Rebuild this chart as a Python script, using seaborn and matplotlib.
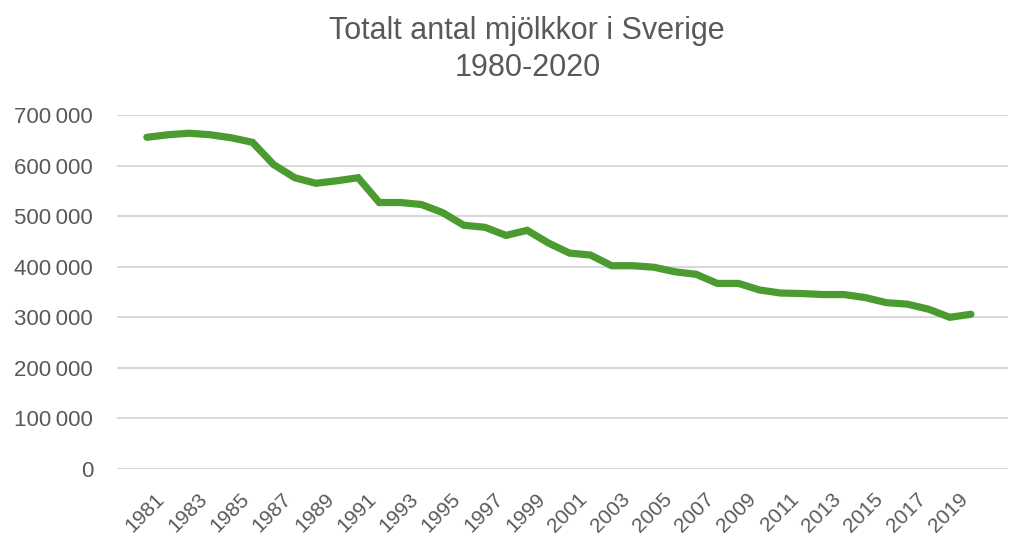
import matplotlib
matplotlib.use("Agg")
import matplotlib.pyplot as plt
import matplotlib.ticker as mticker
import matplotlib.transforms as mtransforms
import numpy as np
import pandas as pd
import seaborn as sns

# ── Data ─────────────────────────────────────────────────────────────────────
YEARS = list(range(1981, 2021))
COWS = [
    656000, 661000, 664000, 661000, 655000, 646000, 602000, 576000, 565000, 570000,
    576000, 527000, 527000, 523000, 507000, 482000, 478000, 462000, 472000, 447000,
    427000, 423000, 402000, 402000, 399000, 390000, 385000, 367000, 367000, 354000,
    348000, 347000, 345000, 345000, 339000, 329000, 326000, 316000, 300000, 306000,
]
Y_TICKS = [0, 100000, 200000, 300000, 400000, 500000, 600000, 700000]
X_TICKS = list(range(1981, 2020, 2))
TITLE = "Totalt antal mjölkkor i Sverige\n1980-2020"

# ── Style ────────────────────────────────────────────────────────────────────
GREEN = "#4b9b30"
TEXT = "#595959"
GRID = "#d9d9d9"

sns.set_style("white")
plt.rcParams["font.family"] = ["Liberation Sans", "DejaVu Sans"]

df = pd.DataFrame({"year": YEARS, "cows": COWS})

fig = plt.figure(figsize=(10.16, 5.37), dpi=100)
ax = fig.add_axes([0.115, 0.1266, 0.877, 0.6592])

ax.yaxis.grid(True, color=GRID, linewidth=1.5)
ax.set_axisbelow(True)
sns.lineplot(data=df, x="year", y="cows", ax=ax, color=GREEN, linewidth=5.2,
             solid_capstyle="round", solid_joinstyle="miter")

ax.set_ylim(0, 700000)
ax.set_xlim(1979.58, 2021.75)
ax.set_yticks(Y_TICKS)
ax.yaxis.set_major_formatter(
    mticker.FuncFormatter(lambda v, _: f"{int(v):,}".replace(",", "\u2009")))
ax.set_xticks(X_TICKS)
ax.set_xticklabels([str(y) for y in X_TICKS], rotation=45,
                   ha="right", va="center", rotation_mode="anchor")

ax.tick_params(axis="y", labelsize=16, labelcolor=TEXT, length=0, pad=17)
ax.tick_params(axis="x", labelsize=15, labelcolor=TEXT, length=0, pad=14)
# Excel places the rotated year labels a bit right of / below the category centre
shift = mtransforms.ScaledTranslation(15 / 100, -8 / 100, fig.dpi_scale_trans)
for lab in ax.get_xticklabels():
    lab.set_transform(lab.get_transform() + shift)
ax.set_xlabel("")
ax.set_ylabel("")
for s in ax.spines.values():
    s.set_visible(False)

fig.text(0.519, 0.908, TITLE, ha="center", va="center", fontsize=22,
         color=TEXT, linespacing=1.3)

fig.savefig("out.png", dpi=100)
